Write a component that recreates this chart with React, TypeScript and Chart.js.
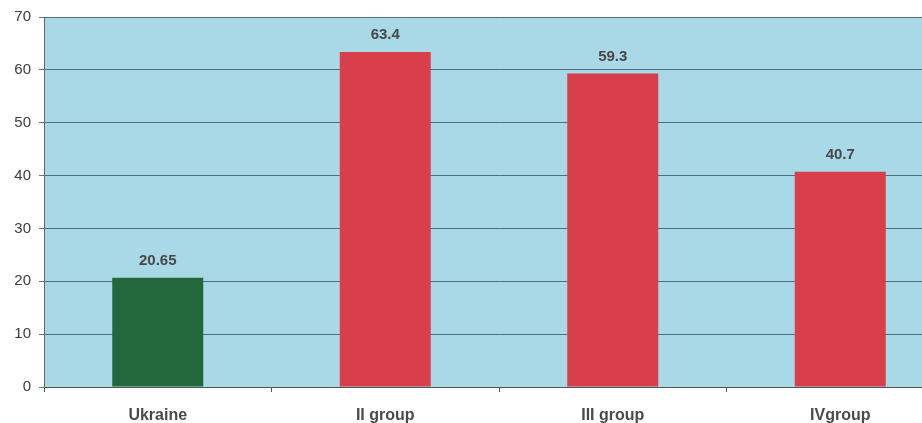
import React, { useEffect, useRef } from "react";
import { Chart, registerables } from "chart.js";

Chart.register(...registerables);

const categories = ["Ukraine", "II group", "III group", "IVgroup"];
const values = [20.65, 63.4, 59.3, 40.7];
const valueLabels = ["20.65", "63.4", "59.3", "40.7"];
const barColors = ["#22683c", "#d83f4b", "#d83f4b", "#d83f4b"];
const yMin = 0;
const yMax = 70;
const yStep = 10;

const FONT = "'Liberation Sans', Arial, sans-serif";

const bgPlugin = {
  id: "plotBg",
  beforeDraw(chart: any) {
    const { ctx, chartArea } = chart;
    ctx.save();
    ctx.fillStyle = "#a9d8e7";
    ctx.fillRect(chartArea.left, chartArea.top, chartArea.right - chartArea.left, chartArea.bottom - chartArea.top);
    ctx.restore();
  },
};

const labelPlugin = {
  id: "valueLabels",
  afterDatasetsDraw(chart: any) {
    const { ctx } = chart;
    const meta = chart.getDatasetMeta(0);
    ctx.save();
    ctx.font = `bold 15px ${FONT}`;
    ctx.fillStyle = "#484848";
    ctx.textAlign = "center";
    ctx.textBaseline = "middle";
    meta.data.forEach((el: any, i: number) => {
      ctx.fillText(valueLabels[i], el.x, el.y - 17);
    });
    ctx.restore();
  },
};

export default function App() {
  const ref = useRef<HTMLCanvasElement>(null);
  useEffect(() => {
    if (!ref.current) return;
    const chart = new Chart(ref.current, {
      type: "bar",
      data: {
        labels: categories,
        datasets: [
          {
            data: values,
            backgroundColor: barColors,
            borderWidth: 0,
            barPercentage: 0.4,
            categoryPercentage: 1,
          },
        ],
      },
      options: {
        animation: false,
        responsive: false,
        maintainAspectRatio: false,
        layout: { padding: { top: 37, left: 0, right: 6, bottom: 0 } },
        plugins: { legend: { display: false }, tooltip: { enabled: false } },
        scales: {
          x: {
            offset: true,
            afterFit(scale: any) {
              scale.height = 36;
            },
            grid: {
              offset: true,
              drawOnChartArea: false,
              drawTicks: true,
              tickLength: 5,
              color: "#555",
            },
            border: { display: true, color: "#555", width: 1 },
            ticks: {
              color: "#4a4a4a",
              font: { family: FONT, size: 16, weight: "bold" },
              padding: 14,
            },
          },
          y: {
            min: yMin,
            max: yMax,
            afterFit(scale: any) {
              scale.width = 44;
            },
            grid: {
              color: "rgba(55,85,95,0.8)",
              lineWidth: 1,
              drawTicks: true,
              tickLength: 5,
            },
            border: { display: true, color: "#666", width: 1 },
            ticks: {
              stepSize: yStep,
              color: "#3c3c3c",
              font: { family: FONT, size: 15 },
              padding: 8,
            },
          },
        },
      },
      plugins: [bgPlugin, labelPlugin],
    });
    return () => chart.destroy();
  }, []);
  return (
    <div style={{ position: "fixed", left: 0, top: -20, width: 960, height: 443, background: "#fff" }}>
      <canvas ref={ref} width={960} height={443} style={{ width: 960, height: 443, display: "block" }} />
    </div>
  );
}
